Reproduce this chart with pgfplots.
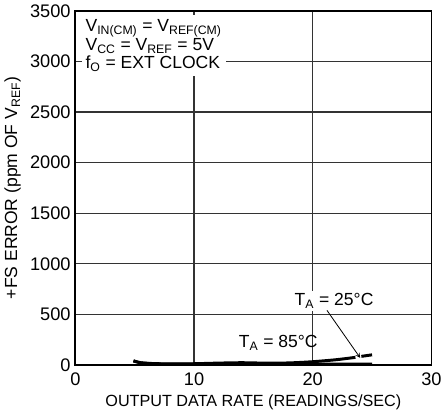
\documentclass[border=0pt]{standalone}
\usepackage{pgfplots}
\pgfplotsset{compat=1.18}
\usepackage{fontspec}
\setmainfont{Liberation Sans}
\begin{document}
\begin{tikzpicture}
\begin{axis}[
  scale only axis, width=264pt, height=262.5pt,
  xmin=0, xmax=30, ymin=0, ymax=3500,
  xtick={0,10,20,30}, ytick={0,500,...,3500},
  major tick length=0pt,
  grid=major, major grid style={draw=black!80, line width=1pt},
  axis line style={line width=1.3pt},
  /pgf/number format/assume math mode=true,
  /pgf/number format/1000 sep={},
  tick label style={font=\fontsize{13.5}{15}\selectfont},
  xticklabel style={yshift=-2pt},
  xlabel style={font=\fontsize{12}{14}\selectfont},
  ylabel style={font=\fontsize{13}{15}\selectfont},
  xlabel={OUTPUT DATA RATE (READINGS/SEC)},
  ylabel={+FS ERROR (ppm OF V\textsubscript{REF})},
]
% T_A = 85C
\addplot[black, line width=2.2pt, smooth] coordinates {
(4.9,40) (5.5,22) (6.5,12) (8,8) (10,8) (12,10) (14,12) (16,10) (18,8) (20,8) (22,8) (24,8) (25,8)};
% T_A = 25C
\addplot[black, line width=2.2pt, smooth] coordinates {
(4.9,40) (5.5,22) (6.5,14) (8,10) (10,12) (12,18) (14,22) (16,18) (18,20) (20,32) (22,52) (23.6,75)};
\addplot[black, line width=2.2pt] coordinates {(24.1,85) (25,100)};
\node[fill=white, anchor=north west, inner sep=3pt, align=left, font=\fontsize{13}{13.2}\selectfont]
  at (axis cs:0.5,3460) {V\textsubscript{IN(CM)} = V\textsubscript{REF(CM)}\\V\textsubscript{CC} = V\textsubscript{REF} = 5V\\f\textsubscript{O} = EXT CLOCK};
\node[fill=white, inner sep=2pt, font=\fontsize{13}{14}\selectfont] at (axis cs:21.8,630) {T\textsubscript{A} = 25\textdegree C};
\draw[-stealth, line width=0.6pt] (axis cs:21.2,540) -- (axis cs:24.0,70);
\node[inner sep=0pt, font=\fontsize{13}{14}\selectfont] at (axis cs:17.1,220) {T\textsubscript{A} = 85\textdegree C};
\end{axis}
\end{tikzpicture}
\end{document}
